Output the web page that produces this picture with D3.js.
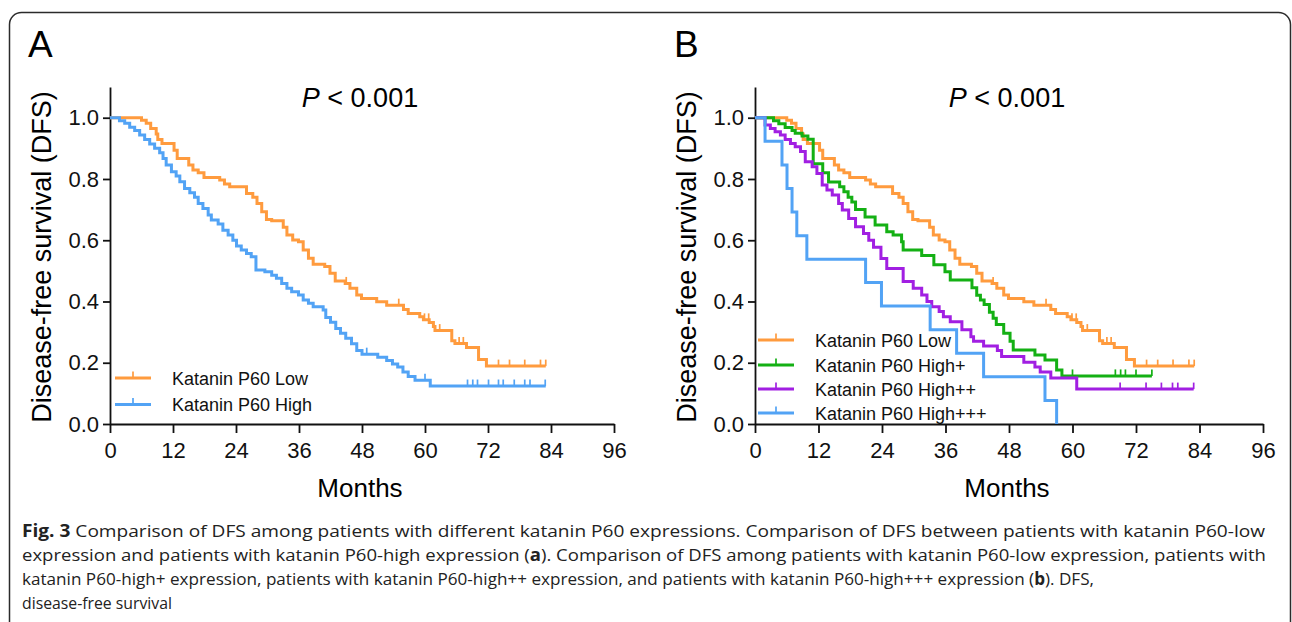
<!DOCTYPE html>
<html>
<head>
<meta charset="utf-8">
<script src="https://cdn.jsdelivr.net/npm/d3@7"></script>
<style>
  html, body { margin: 0; padding: 0; background: #fff; }
  svg { display: block; }
</style>
</head>
<body>
<svg width="1292" height="622"></svg>
<script>
'use strict';

// ---- data ----
var monthTicks = [0, 12, 24, 36, 48, 60, 72, 84, 96];
var survTicks = [0, 0.2, 0.4, 0.6, 0.8, 1.0];

// [month, survival after the drop]
var lowSteps = [[0, 1], [6.0, 0.992], [6.9, 0.982], [7.75, 0.965], [8.8, 0.947], [9.1, 0.929], [9.9, 0.916],
  [12.2, 0.894], [12.8, 0.867], [15.0, 0.846], [15.8, 0.829], [16.8, 0.82], [17.9, 0.805], [20.9, 0.797],
  [21.8, 0.784], [22.8, 0.775], [26.0, 0.753], [27.2, 0.74], [28.0, 0.72], [28.9, 0.693], [29.8, 0.668],
  [30.8, 0.664], [33.0, 0.642], [33.7, 0.617], [34.8, 0.601], [35.9, 0.595], [36.8, 0.568], [37.8, 0.541],
  [38.7, 0.522], [40.9, 0.514], [41.9, 0.492], [42.9, 0.467], [44.8, 0.459], [45.7, 0.443], [47.0, 0.421],
  [47.9, 0.41], [50.8, 0.399], [52.7, 0.388], [55.9, 0.374], [56.8, 0.361], [59.0, 0.35], [59.7, 0.34],
  [60.8, 0.331], [61.6, 0.318], [61.9, 0.305], [65.1, 0.272], [65.7, 0.263], [67.9, 0.25], [70.2, 0.211],
  [71.7, 0.189]];
var lowEnd = 83;
var lowCensor = [45.0, 55.0, 59.9, 60.7, 62.8, 66.5, 67.3, 71.7, 74.0, 76.1, 79.0, 82.0, 83.0];

var highSteps = [[0, 1], [1.8, 0.99], [2.8, 0.982], [3.75, 0.969], [4.7, 0.958], [5.65, 0.944], [6.6, 0.929],
  [7.56, 0.914], [8.5, 0.9], [9.46, 0.886], [10.1, 0.867], [10.7, 0.846], [11.7, 0.824], [12.6, 0.81],
  [13.3, 0.791], [14.2, 0.769], [15.2, 0.755], [16.1, 0.74], [16.8, 0.72], [17.7, 0.704], [18.7, 0.682],
  [19.3, 0.666], [20.6, 0.653], [21.5, 0.633], [22.5, 0.617], [23.4, 0.6], [24.1, 0.581], [25.0, 0.568],
  [26.0, 0.557], [26.9, 0.546], [27.8, 0.503], [29.5, 0.497], [30.8, 0.486], [31.7, 0.476], [32.7, 0.459],
  [33.7, 0.443], [34.6, 0.432], [35.9, 0.421], [36.8, 0.405], [37.8, 0.394], [38.7, 0.383], [40.6, 0.372],
  [41.1, 0.348], [42.0, 0.332], [43.0, 0.312], [43.9, 0.296], [44.9, 0.28], [46.0, 0.262], [47.0, 0.24],
  [48.0, 0.228], [51.0, 0.218], [52.7, 0.207], [53.8, 0.196], [54.8, 0.186], [55.8, 0.17], [56.8, 0.155],
  [58.1, 0.143], [61.0, 0.124]];
var highEnd = 83;
var highCensor = [48.9, 60.0, 68.1, 69.1, 70.0, 72.1, 74.0, 74.9, 77.0, 79.0, 80.0, 82.9];

var highPlusSteps = [[0, 1], [3.5, 0.99], [4.5, 0.98], [5.7, 0.968], [7.0, 0.958], [7.6, 0.949], [8.9, 0.94],
  [10.0, 0.93], [11.0, 0.85], [12.8, 0.82], [13.9, 0.79], [16.0, 0.775], [16.8, 0.758], [17.6, 0.74],
  [18.3, 0.725], [19.0, 0.70], [20.8, 0.676], [22.7, 0.65], [24.9, 0.628], [26.1, 0.617], [27.7, 0.595],
  [28.0, 0.568], [31.5, 0.55], [33.8, 0.52], [35.9, 0.497], [36.9, 0.47], [41.0, 0.445], [41.9, 0.42],
  [42.6, 0.405], [43.3, 0.39], [44.3, 0.365], [45.0, 0.345], [45.6, 0.325], [47.0, 0.296], [48.2, 0.27],
  [48.8, 0.242], [52.9, 0.225], [54.8, 0.209], [57.0, 0.176], [58.0, 0.157]];
var highPlusEnd = 75;
var highPlusCensor = [60.0, 68.1, 69.1, 70.0, 72.0, 75.0];

var highPP_Steps = [[0, 1], [1.9, 0.976], [2.9, 0.965], [3.8, 0.954], [4.8, 0.944], [5.7, 0.929], [6.7, 0.916],
  [7.6, 0.905], [8.6, 0.89], [9.5, 0.856], [10.8, 0.84], [11.7, 0.818], [12.7, 0.78], [13.6, 0.764],
  [14.6, 0.748], [15.8, 0.72], [16.5, 0.699], [17.7, 0.671], [19.0, 0.644], [20.5, 0.622], [21.5, 0.6],
  [22.4, 0.577], [23.8, 0.54], [24.9, 0.508], [28.0, 0.465], [29.9, 0.443], [31.5, 0.421], [32.5, 0.40],
  [33.4, 0.383], [34.8, 0.367], [35.6, 0.35], [36.9, 0.334], [39.1, 0.308], [40.8, 0.285], [41.3, 0.27],
  [43.2, 0.255], [45.8, 0.24], [46.6, 0.22], [50.8, 0.202], [52.9, 0.186], [53.9, 0.17], [55.9, 0.15],
  [60.8, 0.114]];
var highPP_End = 82.9;
var highPP_Censor = [69.0, 73.9, 76.8, 78.9, 79.9, 82.9];

var highPPP_Steps = [[0, 1], [1.9, 0.923], [5.1, 0.846], [6.05, 0.769], [7.0, 0.692], [7.9, 0.615],
  [9.8, 0.538], [20.9, 0.462], [23.9, 0.385], [33.1, 0.308], [38.1, 0.231], [43.2, 0.154], [54.8, 0.077],
  [57.0, 0]];
var highPPP_End = 57.0;
var highPPP_Censor = [];

var colors = { low: '#ff9b3e', high: '#52a3f5', plus: '#14b014', pp: '#a11fe2', ppp: '#52a3f5' };

var captionLines = [
  [['Fig. 3', true], [' Comparison of DFS among patients with different katanin P60 expressions. Comparison of DFS between patients with katanin P60-low', false]],
  [['expression and patients with katanin P60-high expression (', false], ['a', true], ['). Comparison of DFS among patients with katanin P60-low expression, patients with', false]],
  [['katanin P60-high+ expression, patients with katanin P60-high++ expression, and patients with katanin P60-high+++ expression (', false], ['b', true], ['). DFS,', false]],
  [['disease-free survival', false]]
];
var captionWidths = [1243, 1244, 1072, 150];

// ---- drawing ----
var svg = d3.select('svg');
var FONT = '"Liberation Sans", Arial, sans-serif';

svg.append('rect')
  .attr('x', 9.5).attr('y', 12.5)
  .attr('width', 1281).attr('height', 660)
  .attr('rx', 12).attr('ry', 12)
  .attr('fill', 'none')
  .attr('stroke', '#2b2b2b')
  .attr('stroke-width', 1.5);

function survAt(steps, t) {
  var s = steps[0][1];
  steps.forEach(function(d) { if (d[0] <= t) s = d[1]; });
  return s;
}

function drawPanel(cfg) {
  var x = d3.scaleLinear().domain([0, 96]).range(cfg.xr);
  var y = d3.scaleLinear().domain([0, 1.1]).range([424, 87.1]);
  var g = svg.append('g');

  g.append('text')
    .attr('x', cfg.letterX).attr('y', 57)
    .attr('font-family', FONT).attr('font-size', 37)
    .text(cfg.letter);

  var pText = g.append('text')
    .attr('x', (cfg.xr[0] + cfg.xr[1]) / 2 - 2).attr('y', 107)
    .attr('text-anchor', 'middle')
    .attr('font-family', FONT).attr('font-size', 27);
  pText.append('tspan').attr('font-style', 'italic').text('P');
  pText.append('tspan').text(' < 0.001');

  var axisX = d3.axisBottom(x)
    .tickValues(monthTicks)
    .tickSize(9).tickPadding(9)
    .tickSizeOuter(0);

  var axisY = d3.axisLeft(y)
    .tickValues(survTicks)
    .tickFormat(d3.format('.1f'))
    .tickSize(7).tickPadding(4)
    .tickSizeOuter(0);

  var gx = g.append('g')
    .attr('transform', 'translate(0,424)')
    .call(axisX);
  var gy = g.append('g')
    .attr('transform', 'translate(' + cfg.xr[0] + ',0)')
    .call(axisY);

  [gx, gy].forEach(function(a) {
    a.attr('font-family', FONT).attr('font-size', 22);
    a.selectAll('path, line').attr('stroke', '#111').attr('stroke-width', 1.8);
    a.selectAll('text').attr('fill', '#111');
  });

  g.append('text')
    .attr('x', (cfg.xr[0] + cfg.xr[1]) / 2 - 2).attr('y', 497)
    .attr('text-anchor', 'middle')
    .attr('font-family', FONT).attr('font-size', 26)
    .text('Months');

  g.append('text')
    .attr('transform', 'translate(' + (cfg.xr[0] - 59) + ',257) rotate(-90)')
    .attr('text-anchor', 'middle')
    .attr('font-family', FONT).attr('font-size', 27)
    .text('Disease-free survival (DFS)');

  var line = d3.line()
    .x(function(d) { return x(d[0]); })
    .y(function(d) { return y(d[1]); })
    .curve(d3.curveStepAfter);

  cfg.series.forEach(function(s) {
    var pts = s.steps.slice();
    var last = pts[pts.length - 1];
    if (last[0] < s.end) pts.push([s.end, last[1]]);

    g.append('path')
      .attr('d', line(pts))
      .attr('fill', 'none')
      .attr('stroke', s.color)
      .attr('stroke-width', 3)
      .attr('stroke-linejoin', 'miter');

    g.selectAll(null)
      .data(s.censor)
      .enter()
      .append('line')
      .attr('x1', function(d) { return x(d); })
      .attr('x2', function(d) { return x(d); })
      .attr('y1', function(d) { return y(survAt(s.steps, d)); })
      .attr('y2', function(d) { return y(survAt(s.steps, d)) - 6.5; })
      .attr('stroke', s.color)
      .attr('stroke-width', 1.7);
  });

  // legend
  var lg = g.append('g');
  cfg.series.forEach(function(s, i) {
    var ly = cfg.legendY[i];
    lg.append('line')
      .attr('x1', cfg.legendX).attr('x2', cfg.legendX + 36)
      .attr('y1', ly).attr('y2', ly)
      .attr('stroke', s.color).attr('stroke-width', 3);
    lg.append('line')
      .attr('x1', cfg.legendX + 18).attr('x2', cfg.legendX + 18)
      .attr('y1', ly).attr('y2', ly - 6.5)
      .attr('stroke', s.color).attr('stroke-width', 1.7);
    lg.append('text')
      .attr('x', cfg.legendX + 57).attr('y', ly + 6.5)
      .attr('font-family', FONT).attr('font-size', 18)
      .attr('fill', '#111')
      .text(s.name);
  });
}

drawPanel({
  letter: 'A', letterX: 28,
  xr: [110, 614],
  legendX: 115, legendY: [378, 404.5],
  series: [
    { name: 'Katanin P60 Low', steps: lowSteps, end: lowEnd, censor: lowCensor, color: colors.low },
    { name: 'Katanin P60 High', steps: highSteps, end: highEnd, censor: highCensor, color: colors.high }
  ]
});

drawPanel({
  letter: 'B', letterX: 674,
  xr: [755, 1263],
  legendX: 758, legendY: [340, 365, 389, 413],
  series: [
    { name: 'Katanin P60 Low', steps: lowSteps, end: lowEnd, censor: lowCensor, color: colors.low },
    { name: 'Katanin P60 High+', steps: highPlusSteps, end: highPlusEnd, censor: highPlusCensor, color: colors.plus },
    { name: 'Katanin P60 High++', steps: highPP_Steps, end: highPP_End, censor: highPP_Censor, color: colors.pp },
    { name: 'Katanin P60 High+++', steps: highPPP_Steps, end: highPPP_End, censor: highPPP_Censor, color: colors.ppp }
  ]
});

// caption
var cap = svg.append('g');
captionLines.forEach(function(parts, i) {
  var t = cap.append('text')
    .attr('x', 22).attr('y', 537 + i * 24)
    .attr('font-family', '"Open Sans", "Noto Sans", sans-serif')
    .attr('font-size', 17)
    .attr('fill', '#222')
    .attr('textLength', captionWidths[i])
    .attr('lengthAdjust', 'spacingAndGlyphs');
  parts.forEach(function(p) {
    t.append('tspan')
      .attr('font-weight', p[1] ? 'bold' : 'normal')
      .text(p[0]);
  });
});
</script>
</body>
</html>
